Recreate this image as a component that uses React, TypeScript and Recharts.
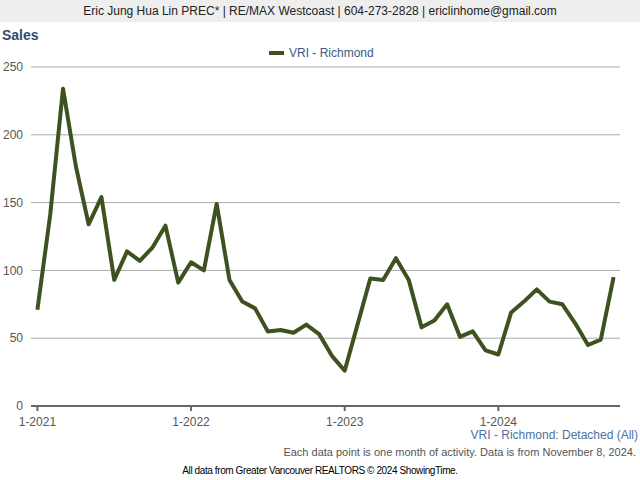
import React from "react";
import { LineChart, Line, XAxis, YAxis, CartesianGrid } from "recharts";

const months: number[] = Array.from({ length: 46 }, (_, i) => i);
const sales: number[] = [
  71, 141, 234, 177, 134, 154, 93, 114, 107, 117, 133, 91,
  106, 100, 149, 93, 77, 72, 55, 56, 54, 60, 53, 37,
  26, 60, 94, 93, 109, 93, 58, 63, 75, 51, 55, 41,
  38, 69, 77, 86, 77, 75, 61, 45, 49, 95,
];
const xTickIndex: number[] = [0, 12, 24, 36];
const xTickLabels: string[] = ["1-2021", "1-2022", "1-2023", "1-2024"];
const yTicks: number[] = [0, 50, 100, 150, 200, 250];

const data = months.map((m, i) => ({ m, v: sales[i] }));

const FONT = "'Liberation Sans', Arial, sans-serif";

export default function App() {
  return (
    <div
      style={{
        position: "fixed",
        left: 0,
        top: 0,
        width: 640,
        height: 480,
        background: "#ffffff",
        fontFamily: FONT,
        overflow: "hidden",
      }}
    >
      <div
        style={{
          position: "absolute",
          left: 0,
          top: 0,
          width: 640,
          height: 22,
          background: "#eeeeee",
          color: "#222",
          fontSize: 12,
          lineHeight: "22px",
          textAlign: "center",
        }}
      >
        Eric Jung Hua Lin PREC* | RE/MAX Westcoast | 604-273-2828 | ericlinhome@gmail.com
      </div>
      <div
        style={{
          position: "absolute",
          left: 2,
          top: 26,
          fontSize: 14,
          fontWeight: "bold",
          color: "#2d4d70",
          lineHeight: "18px",
        }}
      >
        Sales
      </div>
      <div
        style={{
          position: "absolute",
          left: 269,
          top: 45,
          height: 16,
          display: "flex",
          alignItems: "center",
          fontSize: 12,
          color: "#3a5a80",
        }}
      >
        <span
          style={{
            display: "inline-block",
            width: 15,
            height: 4,
            background: "#3e5220",
            marginRight: 5,
          }}
        />
        VRI - Richmond
      </div>
      <div style={{ position: "absolute", left: 0, top: 0 }}>
        <LineChart
          width={640}
          height={480}
          data={data}
          margin={{ top: 67, right: 20, bottom: 0, left: 0 }}
        >
          <CartesianGrid vertical={false} stroke="#aaaaaa" strokeWidth={1} />
          <XAxis
            dataKey="m"
            type="number"
            domain={[-0.5, 45.5]}
            ticks={xTickIndex}
            tickFormatter={(t: number) => xTickLabels[xTickIndex.indexOf(t)] ?? ""}
            height={74}
            stroke="#666666"
            axisLine={{ stroke: "#666666", strokeWidth: 2 }}
            tickLine={{ stroke: "#666666", strokeWidth: 2 }}
            tickSize={5}
            tickMargin={6}
            tick={{ fill: "#555555", fontSize: 12, fontFamily: FONT }}
          />
          <YAxis
            domain={[0, 250]}
            ticks={yTicks}
            width={31}
            axisLine={false}
            tickLine={false}
            tick={{ fill: "#555555", fontSize: 12, fontFamily: FONT }}
          />
          <Line
            type="linear"
            dataKey="v"
            stroke="#3e5220"
            strokeWidth={4}
            dot={false}
            isAnimationActive={false}
            strokeLinejoin="round"
          />
        </LineChart>
      </div>
      <div
        style={{
          position: "absolute",
          right: 2,
          top: 427,
          fontSize: 12,
          color: "#4a72a0",
          lineHeight: "16px",
        }}
      >
        VRI - Richmond: Detached (All)
      </div>
      <div
        style={{
          position: "absolute",
          right: 4,
          top: 445,
          fontSize: 11,
          color: "#555555",
          lineHeight: "14px",
        }}
      >
        Each data point is one month of activity. Data is from November 8, 2024.
      </div>
      <div
        style={{
          position: "absolute",
          left: 0,
          width: 640,
          top: 464,
          fontSize: 10,
          letterSpacing: -0.4,
          color: "#000",
          textAlign: "center",
          lineHeight: "13px",
        }}
      >
        All data from Greater Vancouver REALTORS © 2024 ShowingTime.
      </div>
    </div>
  );
}
